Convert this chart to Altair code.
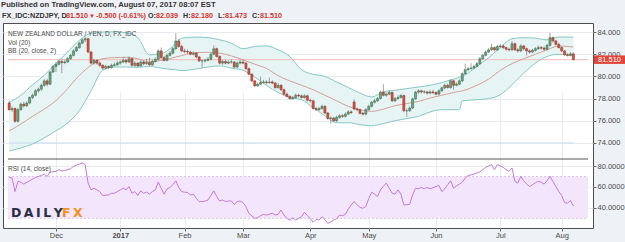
import altair as alt
import pandas as pd

# ---------------- data ----------------
dates = pd.bdate_range("2016-11-09", "2017-08-07")  # daily FX candles, weekdays

opens = [77.60, 77.00, 77.10, 75.95, 77.00, 77.50, 77.35, 77.60, 78.10, 78.30,
         78.70, 78.85, 79.20, 79.60, 79.30, 80.40, 80.90, 81.10, 81.35, 81.25,
         81.30, 81.60, 81.90, 82.30, 82.60, 83.00, 83.30, 83.40, 82.20, 81.20,
         81.45, 81.20, 81.00, 80.75, 80.90, 80.80, 81.00, 81.05, 81.20, 81.30,
         81.45, 81.30, 81.60, 81.00, 81.20, 80.95, 81.30, 81.15, 81.25, 81.05,
         81.35, 81.55, 82.30, 81.70, 81.45, 81.90, 82.10, 82.50, 83.20, 82.70,
         82.30, 82.25, 82.20, 82.00, 82.10, 81.75, 81.40, 81.40, 81.45, 81.55,
         82.00, 82.50, 81.80, 81.20, 81.35, 81.20, 81.30, 81.30, 80.85, 81.20,
         81.30, 81.20, 80.70, 80.20, 79.60, 79.15, 79.30, 79.45, 79.50, 79.45,
         79.50, 79.40, 78.98, 79.20, 78.80, 78.40, 78.20, 78.00, 78.10, 78.30,
         78.25, 78.10, 78.25, 77.85, 77.80, 77.10, 77.00, 77.10, 77.30, 76.70,
         76.20, 76.25, 76.00, 76.30, 76.45, 76.40, 76.60, 76.80, 77.70, 77.06,
         77.00, 76.67, 76.60, 77.00, 77.30, 77.67, 77.80, 78.00, 78.58, 78.30,
         78.40, 78.55, 77.80, 78.00, 78.10, 78.27, 76.90, 76.90, 77.15, 77.97,
         78.58, 78.70, 78.60, 78.60, 78.50, 78.60, 78.55, 78.40, 78.70, 78.97,
         79.20, 79.00, 79.60, 79.20, 79.30, 79.60, 80.24, 80.60, 80.70, 80.75,
         80.90, 81.15, 81.60, 81.90, 82.20, 82.40, 82.60, 82.40, 82.70, 82.75,
         82.60, 82.45, 82.40, 82.95, 82.40, 82.30, 82.75, 82.50, 82.30, 82.20,
         82.35, 82.50, 82.60, 82.55, 82.45, 82.80, 83.50, 83.20, 82.90, 82.60,
         82.30, 81.95, 81.90, 82.039]

highs = [77.80, 77.30, 77.20, 77.15, 77.65, 77.70, 77.75, 78.20, 78.45, 78.85,
         79.00, 79.35, 79.75, 79.80, 80.50, 81.05, 81.30, 81.50, 81.55, 81.50,
         81.75, 82.05, 82.45, 82.75, 83.15, 83.45, 83.55, 83.50, 82.30, 81.60,
         81.55, 81.35, 81.10, 81.05, 81.00, 81.15, 81.25, 81.40, 81.45, 81.75,
         81.60, 81.80, 81.70, 81.35, 81.30, 81.45, 81.45, 81.60, 81.70, 81.50,
         81.70, 82.45, 82.60, 81.85, 82.05, 82.30, 82.65, 83.90, 83.40, 82.85,
         82.50, 82.45, 82.30, 82.25, 82.20, 81.85, 81.55, 81.60, 81.75, 82.15,
         82.80, 82.60, 81.90, 81.50, 81.50, 81.45, 81.55, 81.40, 81.35, 81.50,
         81.55, 81.30, 80.80, 80.30, 79.70, 79.45, 80.00, 79.70, 79.65, 79.90,
         79.65, 79.50, 79.40, 79.30, 78.90, 78.55, 78.30, 78.25, 78.45, 78.45,
         78.35, 78.40, 78.35, 78.00, 77.90, 77.25, 77.25, 77.45, 77.40, 76.80,
         76.40, 76.35, 76.45, 76.60, 76.60, 76.75, 76.95, 76.95, 77.95, 77.20,
         77.10, 76.80, 77.15, 77.45, 77.80, 78.00, 78.15, 78.70, 79.30, 78.55,
         78.75, 78.65, 78.15, 78.30, 78.40, 78.35, 77.10, 77.30, 78.10, 78.70,
         78.85, 78.80, 78.75, 78.70, 78.75, 78.80, 78.65, 78.85, 79.10, 79.35,
         79.35, 79.75, 79.70, 79.45, 79.75, 80.35, 81.15, 80.85, 81.20, 81.05,
         81.30, 81.75, 82.05, 82.35, 82.55, 82.95, 82.70, 82.85, 82.95, 82.90,
         82.70, 82.60, 83.20, 83.05, 82.55, 82.90, 82.85, 82.60, 82.45, 82.50,
         82.65, 82.80, 82.75, 82.70, 82.95, 83.94, 83.60, 83.30, 83.00, 82.70,
         82.40, 82.10, 82.20, 82.18]

lows = [76.90, 76.80, 75.80, 75.85, 76.90, 77.20, 77.25, 77.50, 77.95, 78.20,
        78.55, 78.70, 79.05, 79.10, 79.20, 80.30, 80.40, 81.00, 80.30, 81.10,
        81.20, 81.50, 81.80, 82.20, 82.50, 82.90, 83.10, 82.10, 81.10, 81.05,
        81.05, 80.85, 80.60, 80.65, 80.65, 80.70, 80.90, 80.95, 81.05, 81.20,
        81.15, 81.20, 80.90, 80.85, 80.85, 80.85, 81.00, 81.05, 80.95, 80.95,
        81.25, 81.45, 81.60, 81.35, 81.35, 81.80, 82.00, 82.40, 82.60, 82.20,
        82.10, 82.05, 81.90, 81.90, 81.65, 81.30, 80.80, 81.25, 81.35, 81.45,
        81.90, 81.70, 81.10, 81.05, 81.10, 81.10, 81.15, 80.75, 80.75, 81.10,
        81.10, 80.60, 80.10, 79.50, 79.05, 79.05, 79.20, 79.35, 79.30, 79.35,
        79.30, 78.90, 78.90, 78.70, 78.30, 78.10, 77.90, 77.90, 78.00, 78.10,
        78.00, 78.00, 77.75, 77.65, 77.00, 76.90, 76.90, 77.00, 76.60, 76.10,
        75.76, 75.90, 75.90, 76.20, 76.25, 76.30, 76.50, 76.60, 76.95, 76.85,
        76.55, 76.45, 76.50, 76.90, 77.20, 77.55, 77.70, 77.90, 78.20, 78.15,
        78.30, 77.70, 77.70, 77.90, 78.00, 76.80, 76.36, 76.80, 77.05, 77.90,
        78.45, 78.45, 78.45, 78.35, 78.40, 78.40, 78.30, 78.30, 78.60, 78.85,
        78.90, 78.90, 78.80, 79.10, 79.20, 79.50, 80.15, 80.45, 80.60, 80.65,
        80.80, 81.05, 81.50, 81.80, 82.10, 82.30, 82.25, 82.30, 82.55, 82.45,
        82.30, 82.25, 82.30, 82.30, 82.15, 82.20, 82.35, 81.90, 82.05, 82.10,
        82.25, 82.40, 82.40, 82.30, 82.35, 82.70, 83.05, 82.80, 82.50, 82.20,
        81.85, 81.80, 81.80, 81.473]

closes = [77.00, 77.10, 75.95, 77.00, 77.50, 77.35, 77.60, 78.10, 78.30, 78.70,
          78.85, 79.20, 79.60, 79.30, 80.40, 80.90, 81.10, 81.35, 81.25, 81.30,
          81.60, 81.90, 82.30, 82.60, 83.00, 83.30, 83.40, 82.20, 81.20, 81.45,
          81.20, 81.00, 80.75, 80.90, 80.80, 81.00, 81.05, 81.20, 81.30, 81.45,
          81.30, 81.60, 81.00, 81.20, 80.95, 81.30, 81.15, 81.25, 81.05, 81.35,
          81.55, 82.30, 81.70, 81.45, 81.90, 82.10, 82.50, 83.20, 82.70, 82.30,
          82.25, 82.20, 82.00, 82.10, 81.75, 81.40, 81.40, 81.45, 81.55, 82.00,
          82.50, 81.80, 81.20, 81.35, 81.20, 81.30, 81.30, 80.85, 81.20, 81.30,
          81.20, 80.70, 80.20, 79.60, 79.15, 79.30, 79.45, 79.50, 79.45, 79.50,
          79.40, 78.98, 79.20, 78.80, 78.40, 78.20, 78.00, 78.10, 78.30, 78.25,
          78.10, 78.25, 77.85, 77.80, 77.10, 77.00, 77.10, 77.30, 76.70, 76.20,
          76.25, 76.00, 76.30, 76.45, 76.40, 76.60, 76.80, 76.75, 77.06, 77.00,
          76.67, 76.60, 77.00, 77.30, 77.67, 77.80, 78.00, 78.58, 78.30, 78.40,
          78.55, 77.80, 78.00, 78.10, 78.27, 76.90, 76.90, 77.15, 77.97, 78.58,
          78.70, 78.60, 78.60, 78.50, 78.60, 78.55, 78.40, 78.70, 78.97, 79.20,
          79.00, 79.60, 79.20, 79.30, 79.60, 80.24, 80.60, 80.70, 80.75, 80.90,
          81.15, 81.60, 81.90, 82.20, 82.40, 82.60, 82.40, 82.70, 82.75, 82.60,
          82.45, 82.40, 82.95, 82.40, 82.30, 82.75, 82.50, 82.30, 82.20, 82.35,
          82.50, 82.60, 82.55, 82.45, 82.80, 83.50, 83.20, 82.90, 82.60, 82.30,
          81.95, 81.90, 82.039, 81.51]

# Bollinger band (20, close, 2) values
bb_idx = [0, 4, 8, 12, 16, 20, 24, 28, 32, 36, 40, 44, 48, 52, 55, 57, 59, 64,
          68, 72, 76, 80, 84, 88, 92, 96, 100, 104, 108, 112, 116, 120, 124,
          128, 132, 136, 140, 144, 148, 152, 154, 155, 160, 164, 168, 172,
          176, 180, 184, 188, 193]
bb_upper = [77.64, 78.30, 79.25, 80.10, 81.18, 82.20, 83.25, 83.90, 84.00,
            84.02, 83.95, 83.50, 81.95, 82.05, 82.50, 83.00, 83.45, 83.55,
            83.50, 83.30, 83.00, 82.50, 82.70, 82.75, 82.40, 81.80, 80.60,
            80.20, 80.00, 79.50, 79.00, 78.50, 78.15, 78.60, 78.75, 78.90,
            79.05, 79.20, 79.45, 79.75, 79.90, 80.00, 80.90, 81.70, 82.60,
            83.40, 83.50, 83.45, 83.30, 83.55, 83.55]
bb_mid = [75.09, 75.70, 76.40, 77.05, 77.82, 78.90, 80.10, 81.00, 81.60,
          81.70, 81.73, 81.60, 81.30, 81.45, 81.60, 81.75, 81.88, 82.15,
          82.18, 82.10, 81.85, 81.50, 81.10, 80.73, 80.06, 79.60, 79.20,
          78.80, 78.30, 77.80, 77.30, 77.00, 76.85, 77.05, 77.36, 77.55,
          77.75, 78.05, 78.30, 78.55, 78.65, 78.70, 79.20, 79.75, 80.55,
          81.15, 81.60, 82.00, 82.40, 82.75, 82.65]
bb_lower = [73.27, 73.55, 73.90, 74.45, 75.09, 75.80, 76.90, 78.70, 80.55,
            80.85, 80.85, 80.82, 80.90, 80.75, 80.65, 80.60, 80.52, 80.67,
            80.85, 80.95, 80.75, 80.55, 79.95, 79.20, 78.55, 78.09, 77.90,
            77.18, 76.45, 75.82, 75.82, 75.65, 75.55, 75.75, 76.00, 76.20,
            76.40, 76.80, 77.00, 77.00, 77.00, 77.80, 77.90, 78.00, 78.35,
            79.25, 80.30, 81.20, 81.80, 82.00, 81.90]

# RSI (14, close) values
rsi_idx = [0, 1, 2, 3, 4, 5, 7, 9, 11, 12, 13, 14, 16, 17, 18, 19, 21, 22, 24,
           25, 26, 27, 28, 29, 30, 31, 32, 34, 35, 36, 37, 38, 39, 40, 41, 42,
           43, 44, 45, 46, 47, 48, 49, 50, 51, 52, 53, 54, 55, 56, 57, 58, 59,
           60, 61, 62, 63, 64, 65, 66, 67, 68, 69, 70, 71, 72, 73, 74, 75, 76,
           77, 78, 79, 80, 81, 82, 84, 85, 86, 87, 88, 90, 91, 92, 93, 94, 95,
           96, 97, 98, 99, 100, 101, 102, 103, 104, 105, 106, 107, 108, 109,
           110, 111, 112, 113, 114, 115, 116, 117, 118, 119, 120, 121, 122,
           123, 124, 125, 126, 127, 128, 129, 130, 131, 132, 133, 134, 135,
           136, 137, 138, 139, 140, 141, 142, 143, 144, 146, 147, 148, 149,
           150, 151, 152, 153, 154, 155, 156, 157, 158, 159, 160, 161, 162,
           163, 164, 165, 166, 167, 168, 169, 170, 171, 172, 173, 174, 175,
           176, 177, 178, 179, 180, 181, 182, 183, 184, 185, 186, 187, 188,
           189, 190, 191, 192, 193]
rsi_val = [69.1, 68.5, 55.6, 65.3, 64.6, 62.7, 65.9, 69.1, 71.0, 72.3, 70.1,
           74.2, 74.9, 76.5, 75.5, 75.5, 77.4, 79.7, 81.9, 82.9, 81.3, 63.7,
           57.2, 58.8, 57.2, 55.6, 51.8, 52.4, 54.0, 54.0, 55.6, 57.2, 58.8,
           57.2, 60.4, 54.0, 55.6, 51.8, 56.3, 54.0, 55.0, 53.1, 55.6, 57.2,
           64.6, 58.8, 53.1, 58.2, 59.5, 62.1, 65.9, 59.5, 55.6, 55.0, 54.7,
           52.4, 53.1, 49.2, 46.0, 46.0, 46.5, 47.6, 51.8, 56.3, 50.8, 46.6,
           47.6, 46.0, 46.6, 46.6, 43.4, 46.0, 46.6, 45.0, 41.2, 34.8, 30.0,
           30.6, 32.6, 33.8, 33.2, 34.8, 33.2, 33.8, 38.0, 33.2, 30.0, 28.4,
           30.6, 28.4, 30.0, 31.5, 35.8, 32.6, 30.0, 26.2, 29.0, 28.4, 31.6,
           29.0, 25.2, 26.8, 28.4, 29.4, 33.2, 32.6, 33.8, 38.9, 42.8, 46.0,
           43.0, 40.4, 39.7, 41.3, 49.0, 55.0, 53.1, 50.8, 57.2, 60.5, 63.7,
           58.8, 54.0, 53.1, 57.2, 53.1, 42.8, 43.0, 43.4, 52.4, 58.8, 58.2,
           59.5, 58.2, 59.5, 58.2, 60.4, 61.4, 55.6, 58.2, 62.1, 65.9, 58.8,
           61.0, 62.7, 64.6, 68.5, 71.0, 71.5, 72.3, 73.3, 74.5, 76.5, 78.7,
           80.0, 81.3, 76.5, 81.3, 80.0, 78.7, 76.5, 74.9, 78.1, 65.3, 63.7,
           70.1, 65.9, 62.7, 60.4, 62.1, 64.0, 65.3, 64.6, 62.7, 66.0, 70.1,
           65.3, 60.4, 55.6, 51.8, 45.0, 44.5, 47.0, 41.8]

month_names = ["Dec", "2017", "Feb", "Mar", "Apr", "May", "Jun", "Jul", "Aug"]
price_ticks = [74, 76, 78, 80, 82, 84]
rsi_ticks = [40, 60, 80]
rsi_levels = [70, 30]
last_price = 81.51
volume_level = 74

# ---------------- frames ----------------
N = len(dates)
idx = list(range(N))
candles = pd.DataFrame({"i": idx, "date": dates.strftime("%Y-%m-%d"),
                        "o": opens, "h": highs, "l": lows, "c": closes})
candles["dir"] = ["up" if c >= o else "down" for o, c in zip(opens, closes)]
bb = pd.DataFrame({"i": bb_idx, "up": bb_upper, "mid": bb_mid, "lo": bb_lower})
rsi = pd.DataFrame({"i": rsi_idx, "r": rsi_val})

pos = pd.Series(idx, index=dates)
month_idx = [int(v) for v in pos.groupby(dates.to_period("M")).min().values[1:]]
label_expr = " : ".join(f"datum.value == {v} ? '{t}'" for v, t in zip(month_idx, month_names)) + " : ''"

FONT = "Liberation Sans"
GRID = "#e7eaee"
X_MIN, X_MAX = -0.4, 198.0
X_SCALE = alt.Scale(domain=[X_MIN, X_MAX], nice=False, zero=False)
P_SCALE = alt.Scale(domain=[72.55, 84.82], range=[136, 0], nice=False, zero=False)
R_SCALE = alt.Scale(domain=[20.8, 86.7], range=[205, 136], nice=False, zero=False)

X_AXIS = alt.Axis(values=month_idx, labelExpr=label_expr, title=None, grid=True,
                  gridColor=GRID, domain=False, tickSize=3, tickColor="#666",
                  labelColor="#4a4a4a", labelFont=FONT, labelFontSize=7.5,
                  labelPadding=0, labelFlush=False,
                  labelFontWeight={"condition": {"test": f"datum.value == {month_idx[1]}", "value": "bold"},
                                   "value": "normal"})
P_AXIS = alt.Axis(orient="right", values=price_ticks, format=".3f", title=None,
                  grid=True, gridColor=GRID, domain=False, tickSize=3,
                  tickColor="#666", labelColor="#4a4a4a", labelFont=FONT,
                  labelFontSize=7.5, labelPadding=1)
R_AXIS = alt.Axis(orient="right", values=rsi_ticks, format=".4f", title=None,
                  grid=True, gridColor=GRID, domain=False, tickSize=3,
                  tickColor="#666", labelColor="#4a4a4a", labelFont=FONT,
                  labelFontSize=7.5, labelPadding=1)

def X(field):
    return alt.X(field, scale=X_SCALE, axis=X_AXIS)

def PY(field):
    return alt.Y(field, scale=P_SCALE, axis=P_AXIS)

def RY(field):
    return alt.Y(field, scale=R_SCALE, axis=R_AXIS)

def XD(v):
    return alt.XDatum(v, scale=X_SCALE, axis=X_AXIS)

def label(txt, x, y, size=6.5, color="#4a4a4a", weight="normal", align="left", font=FONT):
    return alt.Chart(pd.DataFrame({"t": [txt]})).mark_text(
        align=align, baseline="middle", font=font, fontSize=size,
        color=color, fontWeight=weight).encode(
        x=alt.value(x), y=alt.value(y), text="t:N")

# ---------------- price panel ----------------
bbc = alt.Chart(bb)
band = bbc.mark_area(color="#e7f4f4", interpolate="monotone").encode(
    x=X("i:Q"), y=PY("up:Q"), y2="lo:Q")
up_line = bbc.mark_line(color="#86c7c5", strokeWidth=1, interpolate="monotone").encode(
    x=X("i:Q"), y=PY("up:Q"))
lo_line = bbc.mark_line(color="#86c7c5", strokeWidth=1, interpolate="monotone").encode(
    x=X("i:Q"), y=PY("lo:Q"))
mid_line = bbc.mark_line(color="#d0a19b", strokeWidth=1, interpolate="monotone").encode(
    x=X("i:Q"), y=PY("mid:Q"))

vol_line = alt.Chart(pd.DataFrame({"v": [volume_level]})).mark_rule(
    color="#d3e5f3", strokeWidth=1.6).encode(
    x=XD(0), x2=alt.X2Datum(N - 1), y=PY("v:Q"))

cur_line = alt.Chart(pd.DataFrame({"p": [last_price]})).mark_rule(
    color="#f1bcb5", strokeWidth=1).encode(
    x=XD(X_MIN), x2=alt.X2Datum(X_MAX), y=PY("p:Q"))

cc = alt.Chart(candles)
wicks = cc.mark_rule(color="#7b7b7b", strokeWidth=0.7).encode(
    x=X("i:Q"), y=PY("l:Q"), y2="h:Q")
bodies = cc.mark_bar(size=2.1, strokeWidth=0.5).encode(
    x=X("i:Q"), y=PY("o:Q"), y2="c:Q",
    fill=alt.Fill("dir:N", scale=alt.Scale(domain=["up", "down"], range=["#6ba583", "#d75442"]), legend=None),
    stroke=alt.Stroke("dir:N", scale=alt.Scale(domain=["up", "down"], range=["#2e6744", "#8c2b1f"]), legend=None))

sep = alt.Chart(pd.DataFrame({"p": [72.55]})).mark_rule(color="#555555", strokeWidth=1.2).encode(
    x=XD(X_MIN), x2=alt.X2Datum(X_MAX), y=PY("p:Q"))

badge = alt.Chart(pd.DataFrame({"p": [last_price]})).mark_rule(
    color="#e0473a", strokeWidth=8.5, strokeCap="butt").encode(
    x=alt.value(591), x2=alt.value(622), y=PY("p:Q"))
badge_txt = alt.Chart(pd.DataFrame({"p": [last_price], "t": [f"{last_price:.3f}"]})).mark_text(
    color="white", font=FONT, fontSize=7.5, align="center", baseline="middle").encode(
    x=alt.value(606.5), y=PY("p:Q"), text="t:N")

legend_txt = [
    label("NEW ZEALAND DOLLAR / YEN, D, FX_IDC", 5, 11),
    label("Vol (20)", 5, 19.5),
    label("BB (20, close, 2)", 5, 28),
]

RED = "#d0342c"
DARK = "#333333"
HS = 7.2
header = [
    label("Published on TradingView.com, August 07, 2017 08:07 EST", -2, -18, size=7.7, color=DARK, weight="bold"),
    label("FX_IDC:NZDJPY, D", -1, -7.5, size=HS, color=DARK, weight="bold"),
    label("81.510", 63, -7.5, size=HS, color=RED, weight="bold"),
    label("\u25bc", 86, -7.5, size=6, color=RED, weight="bold"),
    label("-0.500 (-0.61%)", 93, -7.5, size=HS, color=RED, weight="bold"),
    label("O:", 145, -7.5, size=HS, color=DARK, weight="bold"),
    label("82.039", 153, -7.5, size=HS, color=RED, weight="bold"),
    label("H:", 180, -7.5, size=HS, color=DARK, weight="bold"),
    label("82.180", 188, -7.5, size=HS, color=RED, weight="bold"),
    label("L:", 215, -7.5, size=HS, color=DARK, weight="bold"),
    label("81.473", 222, -7.5, size=HS, color=RED, weight="bold"),
    label("C:", 249, -7.5, size=HS, color=DARK, weight="bold"),
    label("81.510", 257, -7.5, size=HS, color=RED, weight="bold"),
]

price = alt.layer(band, vol_line, cur_line, mid_line, up_line, lo_line, wicks, bodies,
                  sep, badge, badge_txt, *legend_txt, *header)

# ---------------- RSI panel ----------------
rsi_band = alt.Chart(pd.DataFrame({"a": [rsi_levels[0]], "b": [rsi_levels[1]]})).mark_rect(
    color="#f3e6fc").encode(x=XD(X_MIN), x2=alt.X2Datum(X_MAX), y=RY("a:Q"), y2="b:Q")
rsi_rules = alt.Chart(pd.DataFrame({"lvl": rsi_levels})).mark_rule(
    color="#cdbfd8", strokeWidth=0.8, strokeDash=[2, 2]).encode(
    x=XD(X_MIN), x2=alt.X2Datum(X_MAX), y=RY("lvl:Q"))
rsi_line = alt.Chart(rsi).mark_line(color="#c07bd5", strokeWidth=1).encode(
    x=X("i:Q"), y=RY("r:Q"))
rsi_lbl = label("RSI (14, close)", 5, 146)
logo = [
    label("D\u2009A\u2009I\u2009L\u2009Y", 8, 190, size=12.5, color="#27303f", weight="bold", font="DejaVu Sans"),
    label("F\u2009X", 59, 190, size=12.5, color="#f5901e", weight="bold", font="DejaVu Sans"),
]
rsi_chart = alt.layer(rsi_band, rsi_rules, rsi_line, rsi_lbl, *logo)

chart = alt.layer(price, rsi_chart).resolve_scale(y="independent").properties(
    width=590, height=205,
    autosize=alt.AutoSizeParams(type="none"),
    padding={"left": 3, "top": 23, "right": 32, "bottom": 14},
    background="#eef1f5",
).configure_view(fill="white", stroke="#4d4d4d", strokeWidth=1)

chart.save("out.html", embed_options={"renderer": "svg", "actions": False})
